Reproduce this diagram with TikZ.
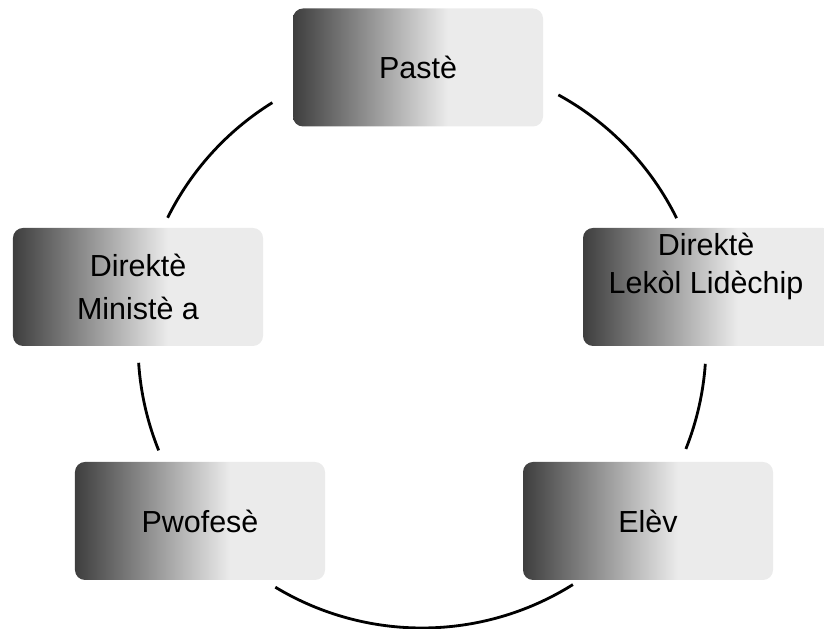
\documentclass[tikz,border=0pt]{standalone}
\usepackage{fontspec}
\setmainfont{Liberation Sans}
\usepackage{xcolor}
\usetikzlibrary{positioning}

\definecolor{boxdark}{RGB}{62,62,62}
\definecolor{boxlight}{RGB}{235,235,235}
\pgfdeclarehorizontalshading{boxshade}{100bp}{color(0bp)=(boxdark); color(25bp)=(boxdark); color(56bp)=(boxlight); color(100bp)=(boxlight)}

\begin{document}
\begin{tikzpicture}[
    x=0.03cm, y=0.03cm,
    box/.style={rectangle, rounded corners=0.3cm, shade, shading=boxshade, minimum width=7.5cm, minimum height=3.54cm, inner sep=0pt, align=center, font=\fontsize{26}{36}\selectfont},
    link/.style={line width=2.4pt, black}
]
\useasboundingbox (0,0) rectangle (824,629);

% Main boxes
\node[box] (past) at (418,561.5) {Pastè};
\node[box] (mini) at (138,342) {Direktè\\Ministè a};
\node[box] (lek) at (708,342) {};
\node[align=center, font=\fontsize{26}{32.5}\selectfont] (lektext) at (706,363) {Direktè\\Lekòl Lidèchip};
\node[box] (pwo) at (200,108) {Pwofesè};
\node[box] (elev) at (648,108) {Elèv};

% Ring between the boxes
\coordinate (ring) at (422,285);
\draw[link] ([shift={(61.3:284)}]ring) arc[start angle=61.3, end angle=26.3, radius=284];
\draw[link] ([shift={(-4:284)}]ring) arc[start angle=-4, end angle=-21.7, radius=284];
\draw[link] ([shift={(302.1:284)}]ring) arc[start angle=302.1, end angle=238.9, radius=284];
\draw[link] ([shift={(202:284)}]ring) arc[start angle=202, end angle=183.8, radius=284];
\draw[link] ([shift={(153.6:284)}]ring) arc[start angle=153.6, end angle=121.8, radius=284];

\end{tikzpicture}
\end{document}
